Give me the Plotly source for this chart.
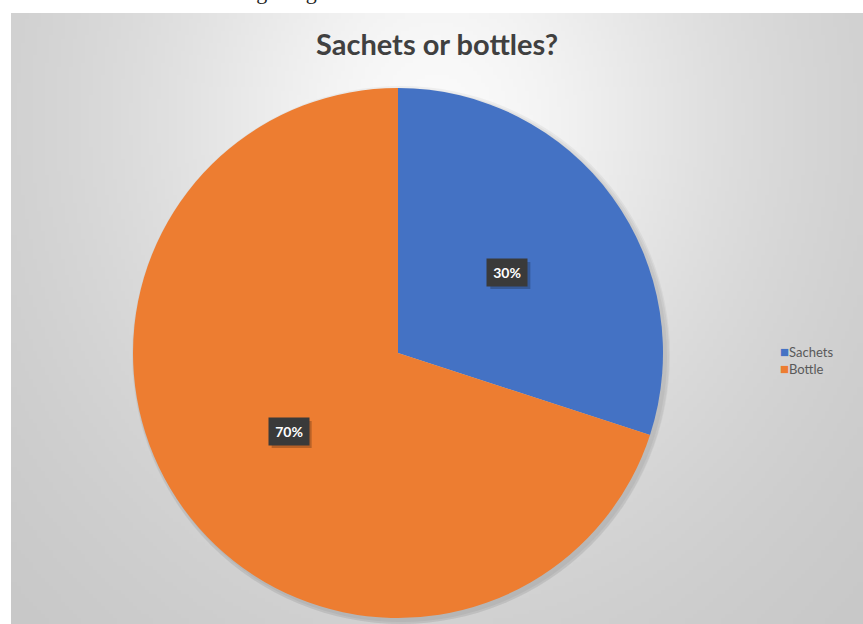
import math
import struct
import zlib
import base64

import numpy as np
import plotly.graph_objects as go

# ---- data ----
labels = ["Sachets", "Bottle"]
values = [30, 70]
colors = ["#4472C4", "#ED7D31"]
title_text = "Sachets or bottles?"

# ---- page geometry (pixels) ----
W, H = 863, 624
CHART_L, CHART_T = 11, 13          # chart-area box (gradient panel)
PIE_L, PIE_R, PIE_T, PIE_B = 133, 663, 88, 618


def px_x(x):
    return min(max(x / W, 0.0), 1.0)


def px_y(y):
    return min(max(1 - y / H, 0.0), 1.0)


def gradient_png(w, h):
    """Soft grey radial fill used behind the chart, encoded as a PNG data URI."""
    sx, sy = (W - CHART_L) / w, (H - CHART_T) / h
    xs = CHART_L + (np.arange(w) + 0.5) * sx
    ys = CHART_T + (np.arange(h) + 0.5) * sy
    X, Y = np.meshgrid(xs, ys)
    d2 = ((X - 437) / 430) ** 2 + ((Y - 120) / 500) ** 2
    v = 250 - 65 * d2 / (d2 + 0.6)
    img = np.clip(v, 0, 255).astype(np.uint8)
    raw = b"".join(b"\x00" + row.tobytes() for row in img)

    def chunk(tag, data):
        c = struct.pack(">I", len(data)) + tag + data
        return c + struct.pack(">I", zlib.crc32(tag + data) & 0xFFFFFFFF)

    png = b"\x89PNG\r\n\x1a\n"
    png += chunk(b"IHDR", struct.pack(">IIBBBBB", w, h, 8, 0, 0, 0, 0))
    png += chunk(b"IDAT", zlib.compress(raw, 9))
    png += chunk(b"IEND", b"")
    return "data:image/png;base64," + base64.b64encode(png).decode()


pie_domain = dict(x=[px_x(PIE_L), px_x(PIE_R)], y=[px_y(PIE_B), px_y(PIE_T)])

fig = go.Figure()

# soft drop shadow under the pie
for k, a in enumerate([0.045, 0.045, 0.045]):
    g = 1 + 2 * k
    fig.add_trace(go.Pie(
        values=[1], labels=[""], sort=False, showlegend=False,
        marker=dict(colors=[f"rgba(0,0,0,{a})"], line=dict(width=0)),
        textinfo="none", hoverinfo="skip",
        domain=dict(x=[px_x(PIE_L - g + 3), px_x(PIE_R + g + 3)],
                    y=[px_y(PIE_B + g + 3), px_y(PIE_T - g + 3)]),
    ))

fig.add_trace(go.Pie(
    labels=labels, values=values, sort=False, direction="clockwise",
    rotation=0, showlegend=False,
    marker=dict(colors=colors, line=dict(width=0)),
    textinfo="none", hoverinfo="label+percent",
    domain=pie_domain,
))

# percentage call-outs, placed at each slice's mid-angle
cx = (PIE_L + PIE_R) / 2
cy = (PIE_T + PIE_B) / 2
R = min(PIE_R - PIE_L, PIE_B - PIE_T) / 2
total = sum(values)
annotations = []
shapes = []
BOX_W, BOX_H = 40, 27
start = 0.0
for lab, v in zip(labels, values):
    mid = (start + v / 2) / total * 2 * math.pi
    start += v
    lx = cx + 0.51 * R * math.sin(mid)
    ly = cy - 0.51 * R * math.cos(mid) - 1
    # drop shadow behind the call-out box
    shapes.append(dict(
        type="rect", xref="paper", yref="paper", layer="above",
        x0=px_x(lx - BOX_W / 2 + 3), x1=px_x(lx + BOX_W / 2 + 3),
        y0=px_y(ly + BOX_H / 2 + 3), y1=px_y(ly - BOX_H / 2 + 3),
        fillcolor="rgba(0,0,0,0.22)", line=dict(width=0),
    ))
    annotations.append(dict(
        x=px_x(lx), y=px_y(ly), xref="paper", yref="paper",
        xanchor="center", yanchor="middle",
        text=f"<b>{v / total:.0%}</b>", showarrow=False,
        font=dict(family="Lato", size=14, color="white"),
        bgcolor="rgba(58,58,58,1)", borderpad=6,
        width=BOX_W - 12, height=BOX_H - 12,
    ))

# legend entries
legend_text = "<br>".join(
    f"<span style='color:{col};font-size:15px'>■</span>{lab}"
    for lab, col in zip(labels, colors)
)
annotations.append(dict(
    x=px_x(778), y=px_y(360), xref="paper", yref="paper",
    xanchor="left", yanchor="middle", showarrow=False, align="left",
    text=legend_text,
    font=dict(family="Lato", size=13, color="#595959"),
))

# title
annotations.append(dict(
    x=px_x((CHART_L + W) / 2), y=px_y(44), xref="paper", yref="paper",
    xanchor="center", yanchor="middle", showarrow=False,
    text=f"<b>{title_text}</b>",
    font=dict(family="Lato", size=29, color="#404040"),
))

# line of body text above the chart panel, cut off by the page edge
annotations.append(dict(
    x=px_x(38), y=px_y(6), xref="paper", yref="paper",
    xanchor="left", yanchor="bottom", showarrow=False,
    text="as shown in the following image.",
    font=dict(family="Liberation Serif", size=22, color="#222222"),
))

fig.update_layout(
    width=W, height=H,
    margin=dict(l=0, r=0, t=0, b=0),
    paper_bgcolor="white", plot_bgcolor="white",
    annotations=annotations,
    shapes=shapes,
    images=[dict(
        source=gradient_png(213, 153), xref="paper", yref="paper",
        x=px_x(CHART_L), y=px_y(CHART_T), sizex=(W - CHART_L) / W,
        sizey=(H - CHART_T) / H, xanchor="left", yanchor="top",
        sizing="stretch", layer="below",
    )],
)

fig.write_html("out.html")
